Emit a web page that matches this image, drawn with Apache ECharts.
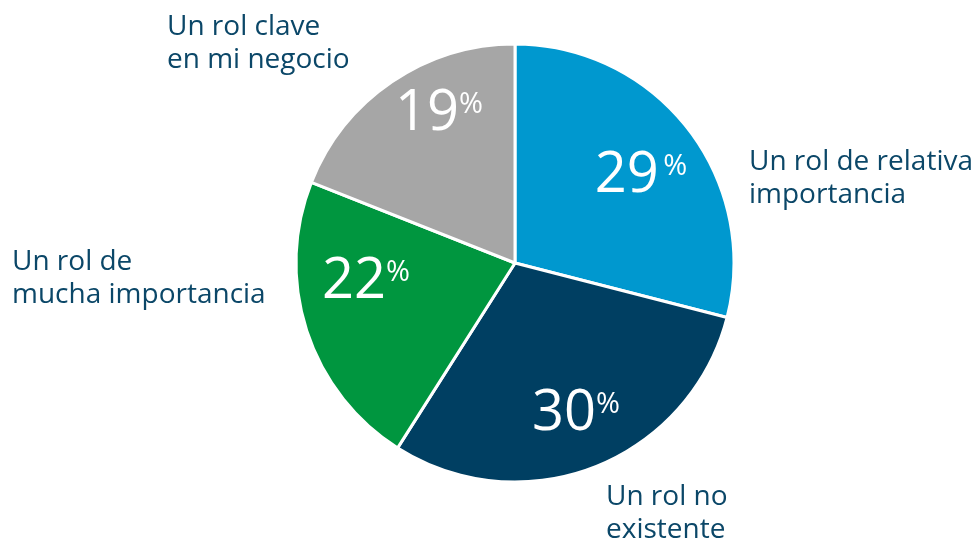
<!DOCTYPE html>
<html>
<head>
<meta charset="utf-8">
<script src="https://cdn.jsdelivr.net/npm/echarts@6/dist/echarts.min.js"></script>
<style>
  html, body { margin: 0; padding: 0; background: #fff; }
  #chart { width: 976px; height: 540px; }
</style>
</head>
<body>
<div id="chart"></div>
<script>
var categories = ['Un rol de relativa\nimportancia', 'Un rol no\nexistente', 'Un rol de\nmucha importancia', 'Un rol clave\nen mi negocio'];
var values = [29, 30, 22, 19];
var colors = ['#0098cf', '#003f62', '#00963f', '#a6a6a6'];

// where the percent labels and the names sit in the picture
var valueLabelPos = [[641, 176], [576, 414], [366, 282], [439, 114]];
var nameLabelPos = [[749, 146], [606, 481], [12, 246], [167, 11]];

var textColor = '#0b4768';
var fontName = '"Open Sans", "Noto Sans", sans-serif';

var myChart = echarts.init(document.getElementById('chart'));

var pieData = [];
for (var i = 0; i < values.length; i++) {
  pieData.push({
    name: categories[i],
    value: values[i],
    itemStyle: { color: colors[i] }
  });
}

var nameTexts = [];
categories.forEach(function (c, i) {
  nameTexts.push({
    type: 'text',
    left: nameLabelPos[i][0],
    top: nameLabelPos[i][1],
    silent: true,
    style: {
      text: c,
      fill: textColor,
      font: '28px ' + fontName,
      lineHeight: 33
    }
  });
});

var option = {
  animation: false,
  series: [{
    type: 'pie',
    center: [515, 263],
    radius: [0, 219],
    startAngle: 90,
    clockwise: true,
    silent: true,
    itemStyle: {
      borderColor: '#fff',
      borderWidth: 3
    },
    label: {
      show: true,
      position: 'inside',
      formatter: function (p) {
        return '{n|' + p.value + '}' + (p.dataIndex === 0 ? '{s| }' : '') + '{p|%}';
      },
      rich: {
        n: { fontSize: 56, color: '#fff', fontFamily: fontName, lineHeight: 60 },
        s: { fontSize: 16, lineHeight: 60 },
        p: { fontSize: 29, color: '#fff', fontFamily: fontName, lineHeight: 60, verticalAlign: 'top', padding: [6, 0, 0, 0] }
      }
    },
    labelLine: { show: false },
    labelLayout: function (params) {
      var pos = valueLabelPos[params.dataIndex];
      return { x: pos[0], y: pos[1], align: 'center', verticalAlign: 'middle' };
    },
    data: pieData
  }],
  graphic: nameTexts
};

myChart.setOption(option);
</script>
</body>
</html>
